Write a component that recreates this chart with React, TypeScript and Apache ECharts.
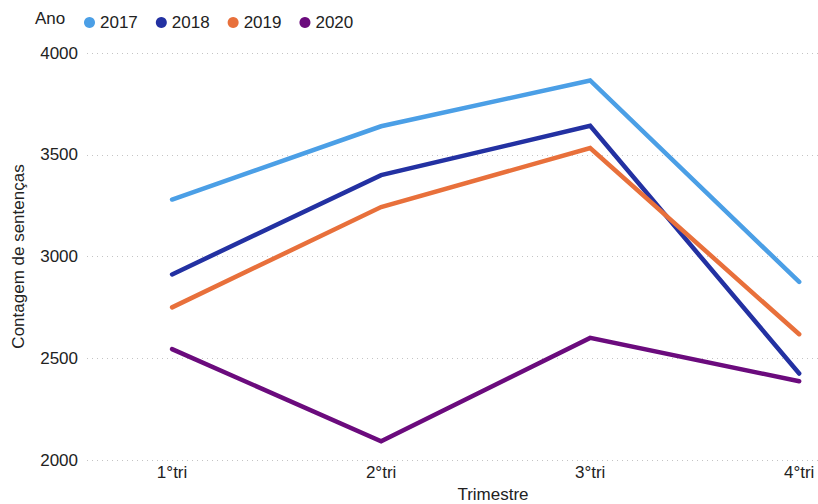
import React, { useEffect, useRef } from "react";
import * as echarts from "echarts";

const categories = ["1°tri", "2°tri", "3°tri", "4°tri"];
const years = ["2017", "2018", "2019", "2020"];
const values2017 = [3280, 3640, 3865, 2875];
const values2018 = [2912, 3400, 3642, 2425];
const values2019 = [2750, 3243, 3533, 2618];
const values2020 = [2545, 2092, 2600, 2387];
const seriesValues = [values2017, values2018, values2019, values2020];
const colors = ["#4b9fe6", "#2331a2", "#e8703b", "#6b0b7d"];
const yTicks = [2000, 2500, 3000, 3500, 4000];

const FONT = "Liberation Sans, Arial, sans-serif";

export default function App() {
  const ref = useRef<HTMLDivElement>(null);
  useEffect(() => {
    if (!ref.current) return;
    const chart = echarts.init(ref.current, undefined, { renderer: "svg" });
    chart.setOption({
      animation: false,
      textStyle: { fontFamily: FONT },
      grid: { left: 87, right: 0, top: 53, bottom: 44, containLabel: false },
      legend: {
        data: years,
        left: 79,
        top: 9,
        icon: "circle",
        itemWidth: 11,
        itemHeight: 11,
        itemGap: 18,
        textStyle: { fontSize: 17, color: "#222", fontFamily: FONT },
      },
      graphic: [
        {
          type: "text",
          left: 35,
          top: 10,
          style: { text: "Ano", fontSize: 17, fill: "#222", fontFamily: FONT },
        },
        {
          type: "text",
          x: 493,
          y: 494,
          style: {
            text: "Trimestre",
            fontSize: 17,
            fill: "#222",
            fontFamily: FONT,
            align: "center",
            verticalAlign: "middle",
          },
        },
      ],
      xAxis: {
        type: "value",
        min: 0.593,
        max: 4.09,
        axisLine: { show: false },
        axisTick: { show: false },
        splitLine: { show: false },
        axisLabel: {
          customValues: [1, 2, 3, 4],
          formatter: (v: number) => categories[Math.round(v) - 1] ?? "",
          fontSize: 17,
          color: "#222",
          margin: 4,
          fontFamily: FONT,
        },
      },
      yAxis: {
        type: "value",
        min: yTicks[0],
        max: yTicks[yTicks.length - 1],
        interval: 500,
        name: "Contagem de sentenças",
        nameLocation: "middle",
        nameRotate: 90,
        nameGap: 60,
        nameTextStyle: { fontSize: 17, color: "#222", fontFamily: FONT },
        axisLine: { show: false },
        axisTick: { show: false },
        axisLabel: {
          fontSize: 17,
          color: "#222",
          margin: 9,
          fontFamily: FONT,
          formatter: (v: number) => String(v),
        },
        splitLine: {
          show: true,
          lineStyle: { color: "#c4c4c4", type: [1, 4], width: 1 },
        },
      },
      series: years.map((y, i) => ({
        name: y,
        type: "line",
        data: seriesValues[i].map((v, j) => [j + 1, v]),
        showSymbol: false,
        symbol: "circle",
        color: colors[i],
        lineStyle: { width: 4.5, color: colors[i], cap: "round", join: "miter" },
      })),
    });
    return () => chart.dispose();
  }, []);
  return <div ref={ref} style={{ width: 818, height: 504, position: "absolute", left: 0, top: 0 }} />;
}
